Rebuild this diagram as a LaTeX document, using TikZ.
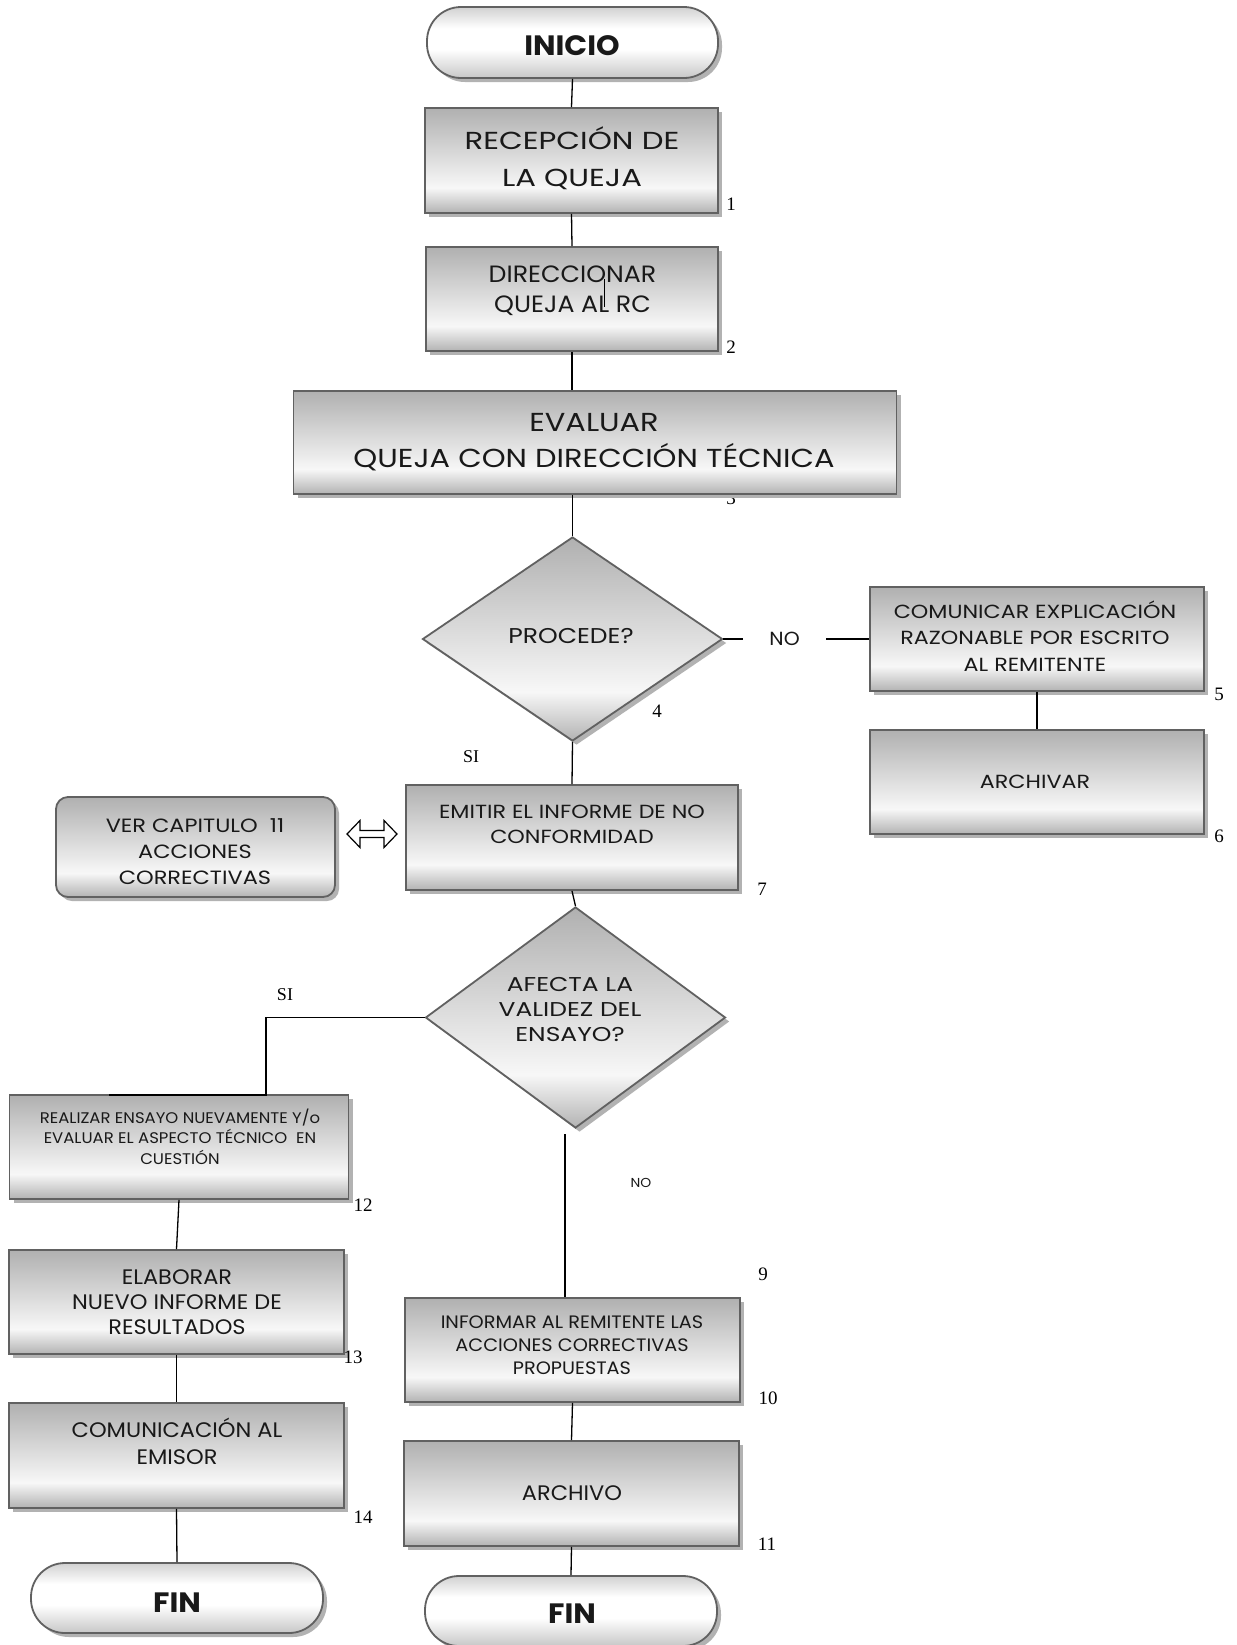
\documentclass[tikz,border=0pt]{standalone}
\usepackage{fontspec}
\setmainfont{Poppins}
\newfontfamily\wa{Poppins}[FakeStretch=1.07]
\newfontfamily\wb{Poppins}[FakeStretch=1.17]
\newfontfamily\wc{Poppins}[FakeStretch=1.25]
\newfontfamily\serifnum{Liberation Serif}
\usetikzlibrary{shapes.geometric,shadows}
\pgfdeclareverticalshading{boxsh}{100bp}{color(0bp)=(black!30); color(25bp)=(black!30); color(37bp)=(black!3); color(75bp)=(black!31); color(100bp)=(black!31)}
\pgfdeclareverticalshading{termsh}{100bp}{color(0bp)=(black!22); color(25bp)=(black!22); color(45bp)=(white); color(60bp)=(white); color(75bp)=(black!18); color(100bp)=(black!18)}
\tikzset{
  shad/.style={drop shadow={shadow xshift=2pt,shadow yshift=-2pt,fill=black!30,opacity=1}},
  procbox/.style={rectangle, draw=black!62, line width=0.9pt, shade, shading=boxsh, shad, inner sep=0pt},
  roundbox/.style={procbox, rounded corners=6pt},
  term/.style={rectangle, rounded corners=17pt, draw=black!62, line width=0.9pt, shade, shading=termsh, shad, inner sep=0pt},
  decis/.style={diamond, draw=black!62, line width=0.9pt, shade, shading=boxsh, shad, inner sep=0pt},
  txt/.style={align=center, inner sep=0pt, text=black!90},
  numlab/.style={inner sep=0pt, font=\serifnum\fontsize{9.5}{11}\selectfont},
  conn/.style={line width=0.65pt, black},
}
\begin{document}
\begin{tikzpicture}[x=0.5pt,y=-0.5pt]
\useasboundingbox (0,0) rectangle (1237,1645);
\fill[white] (0,0) rectangle (1237,1645);

% label 3 drawn first (partly covered by box 3)
\node[numlab, anchor=base] (n3) at (731,504) {3};

% terminals
\node[term, minimum width=145.5pt, minimum height=35.5pt] (ini) at (572.5,42.5) {};
\node[term, minimum width=146pt, minimum height=35pt] (finL) at (177,1598) {};
\node[term, minimum width=146pt, minimum height=35pt] (finR) at (571,1611) {};

% process boxes
\node[procbox, minimum width=146.5pt, minimum height=52.5pt] (b1) at (571.5,160.5) {};
\node[procbox, minimum width=146pt, minimum height=52pt] (b2) at (572,299) {};
\node[procbox, minimum width=301.5pt, minimum height=51.5pt] (b3) at (595,442.5) {};
\node[decis, minimum width=150pt, minimum height=102pt] (d1) at (572.5,639) {};
\node[procbox, minimum width=167pt, minimum height=52pt] (b5) at (1037,639) {};
\node[procbox, minimum width=167pt, minimum height=52pt] (b6) at (1037,782) {};
\node[procbox, minimum width=166pt, minimum height=52.5pt] (b7) at (572,837.5) {};
\node[roundbox, minimum width=139.5pt, minimum height=50pt] (ver) at (195.5,847) {};
\node[decis, minimum width=150pt, minimum height=110.5pt] (d2) at (575.5,1017.5) {};
\node[procbox, minimum width=169.5pt, minimum height=52pt] (b12) at (179,1147) {};
\node[procbox, minimum width=167.5pt, minimum height=52pt] (b13) at (176.5,1302) {};
\node[procbox, minimum width=167.5pt, minimum height=52.5pt] (b14) at (176.5,1455.5) {};
\node[procbox, minimum width=167.5pt, minimum height=52pt] (b10) at (572.5,1350) {};
\node[procbox, minimum width=167.5pt, minimum height=52.5pt] (b11) at (571.5,1493.5) {};

% texts
\node[txt, font=\wa\bfseries\fontsize{14}{16}\selectfont] (tini) at (572,46) {INICIO};
\node[txt, font=\wa\bfseries\fontsize{14}{16}\selectfont] (tfinL) at (177,1603) {FIN};
\node[txt, font=\wa\bfseries\fontsize{14}{16}\selectfont] (tfinR) at (572,1614) {FIN};
\node[txt, font=\wc\fontsize{12.3}{18.5}\selectfont] (t1) at (572,158.5) {RECEPCIÓN DE\\LA QUEJA};
\node[txt, font=\wa\fontsize{11.8}{15}\selectfont] (t2) at (572.5,291) {DIRECCIONAR\\QUEJA AL RC};
\node[txt, font=\wb\fontsize{13}{18}\selectfont] (t3) at (594,442) {EVALUAR\\QUEJA CON DIRECCIÓN TÉCNICA};
\node[txt, font=\wb\fontsize{10.7}{12}\selectfont] (t4) at (571,636) {PROCEDE?};
\node[txt, font=\wb\fontsize{9.5}{13.25}\selectfont] (t5) at (1035,636) {COMUNICAR EXPLICACIÓN\\RAZONABLE POR ESCRITO\\AL REMITENTE};
\node[txt, font=\wb\fontsize{9.5}{12}\selectfont] (t6) at (1035,782) {ARCHIVAR};
\node[txt, font=\wb\fontsize{9.5}{12.5}\selectfont] (t7) at (572,824) {EMITIR EL INFORME DE NO\\CONFORMIDAD};
\begin{scope}
\clip (56,797) rectangle (335,888);
\node[txt, font=\wb\fontsize{9.6}{13}\selectfont] (tver) at (195,852) {VER CAPITULO\ \ 11\\ACCIONES\\CORRECTIVAS};
\end{scope}
\node[txt, font=\wc\fontsize{10}{12.5}\selectfont] (t8) at (570,1009) {AFECTA LA\\VALIDEZ DEL\\ENSAYO?};
\node[txt, font=\wa\fontsize{7.7}{10.25}\selectfont] (t12) at (180,1136.5) {REALIZAR ENSAYO NUEVAMENTE Y/o\\EVALUAR EL ASPECTO TÉCNICO\ \ EN\\CUESTIÓN};
\node[txt, font=\wa\fontsize{10.5}{12.5}\selectfont] (t13) at (177,1302) {ELABORAR\\NUEVO INFORME DE\\RESULTADOS};
\node[txt, font=\wa\fontsize{10.5}{13.5}\selectfont] (t14) at (177,1441) {COMUNICACIÓN AL\\EMISOR};
\node[txt, font=\wa\fontsize{9}{11.5}\selectfont] (t10) at (572,1345) {INFORMAR AL REMITENTE LAS\\ACCIONES CORRECTIVAS\\PROPUESTAS};
\node[txt, font=\wa\fontsize{10.5}{12}\selectfont] (t11) at (572,1493) {ARCHIVO};

% number labels
\node[numlab] (n1) at (731,204) {1};
\node[numlab] (n2) at (731,347) {2};
\node[numlab] (n4) at (657,711) {4};
\node[numlab] (n5) at (1219,694) {5};
\node[numlab] (n6) at (1219,836) {6};
\node[numlab] (n7) at (762,889) {7};
\node[numlab] (n9) at (763,1274) {9};
\node[numlab] (n10) at (768,1398) {10};
\node[numlab] (n11) at (767,1544) {11};
\node[numlab] (n12) at (363,1205) {12};
\node[numlab] (n13) at (353,1357) {13};
\node[numlab] (n14) at (363,1517) {14};
\node[inner sep=0pt, font=\serifnum\fontsize{9}{11}\selectfont] (si1) at (471,757) {SI};
\node[inner sep=0pt, font=\serifnum\fontsize{9}{11}\selectfont] (si2) at (285,995) {SI};
\node[txt, font=\wa\fontsize{6.5}{8}\selectfont] (no2) at (641,1183) {NO};

% connectors
\draw[conn] (ini.south) -- (b1.north);
\draw[conn] (b1.south) -- (b2.north);
\draw[conn] (b2.south) -- (b2.south |- b3.north);
\draw[conn] (d1.north |- b3.south) -- (d1.north);
\draw[conn] (d1.east) -- node[pos=0.42, fill=white, minimum width=41.5pt, inner sep=0pt, text=black!90, font=\wa\fontsize{9.5}{12}\selectfont] (no1) {NO} (b5.west);
\draw[conn] (b5.south) -- (b6.north);
\draw[conn] (d1.south) -- (b7.north);
\draw[conn] (b7.south) -- (d2.north);
\coordinate (k1) at (266,1095);
\coordinate (k2) at (109,1095);
\draw[conn] (d2.west) -| (k1) -- (k2);
\coordinate (k3) at (565,1134);
\draw[conn] (k3) -- (k3 |- b10.north);
\draw[conn] (b12.south) -- (b13.north);
\draw[conn] (b13.south) -- (b14.north);
\draw[conn] (b14.south) -- (finL.north);
\draw[conn] (b10.south) -- (b11.north);
\draw[conn] (b11.south) -- (finR.north);
% stray stroke inside box 2
\coordinate (s1) at (604,279);
\coordinate (s2) at (604,307);
\draw[line width=0.5pt] (s1) -- (s2);

% hollow double arrow
\draw[line width=0.6pt, fill=white] (347,834) -- (360,820.5) -- (360,830.5) -- (384,830.5) -- (384,820.5) -- (397,834) -- (384,847.5) -- (384,837.5) -- (360,837.5) -- (360,847.5) -- cycle;
\end{tikzpicture}
\end{document}
